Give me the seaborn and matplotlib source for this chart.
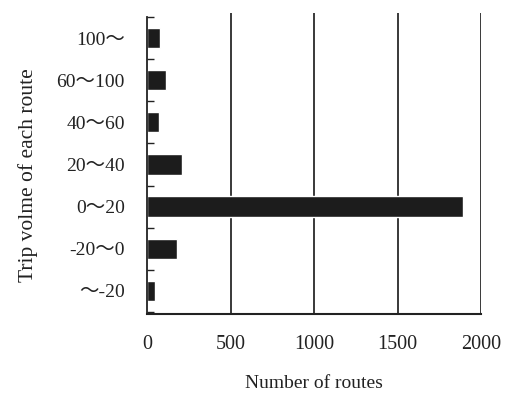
import matplotlib
matplotlib.use("Agg")
import matplotlib.pyplot as plt
import seaborn as sns
import pandas as pd
import numpy as np

categories = ["100～", "60～100", "40～60", "20～40", "0～20", "-20～0", "～-20"]
routes = [78, 114, 72, 210, 1890, 180, 48]
x_ticks = [0, 500, 1000, 1500, 2000]

sns.set_theme(style="white")
plt.rcParams['font.family'] = ['Liberation Serif', 'Noto Sans CJK JP', 'DejaVu Serif']

df = pd.DataFrame({"cat": categories, "n": routes})

fig = plt.figure(figsize=(5.05, 3.94), dpi=100)
ax = fig.add_axes([147/505, 1-314/394, (481-147)/505, (314-13)/394])

sns.barplot(data=df, x="n", y="cat", orient="h", color="#1c1c1c",
            width=0.48, ax=ax, saturation=1)

ax.set_xlim(0, 2000)
ax.set_ylim(6.55, -0.595)

for v in x_ticks[1:]:
    ax.axvline(v, color="#2a2a2a", lw=1.3, zorder=0)

ax.set_xticks(x_ticks)
ax.set_xticklabels([str(v) for v in x_ticks])
ax.tick_params(axis="x", length=0, pad=15, labelsize=14.5, colors="#222222")
ax.tick_params(axis="y", which="major", length=0, pad=16, labelsize=14, colors="#222222")
ax.set_yticks(np.arange(-0.5, 7, 1), minor=True)
ax.tick_params(axis="y", which="minor", direction="in", length=5, width=1, color="#222222", left=True)

for s in ["top", "right"]:
    ax.spines[s].set_visible(False)
ax.spines["left"].set_color("#222222")
ax.spines["left"].set_linewidth(1.3)
ax.spines["left"].set_bounds(6.55, -0.5)
ax.spines["bottom"].set_color("#222222")
ax.spines["bottom"].set_linewidth(1.5)

ax.set_xlabel("Number of routes", fontsize=14, color="#222222", labelpad=15)
ax.set_ylabel("Trip volme of each route", fontsize=15.5, color="#222222")
ax.yaxis.set_label_coords(-0.325, 0.46)

fig.savefig("out.png", dpi=100, facecolor="white")
